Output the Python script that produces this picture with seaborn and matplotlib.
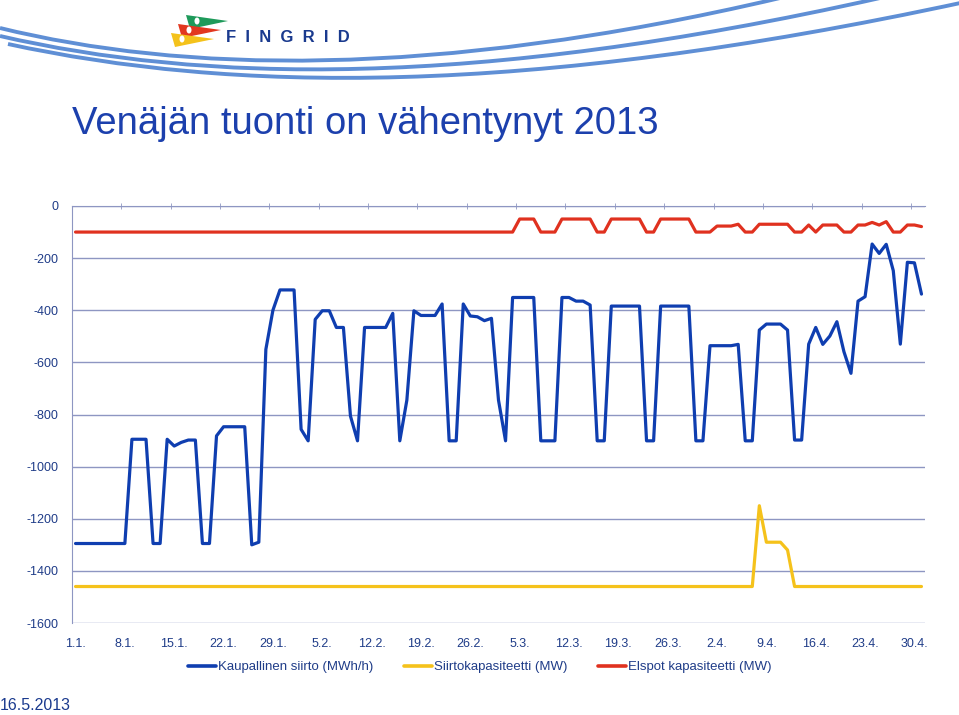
import matplotlib
matplotlib.use("Agg")
import matplotlib.pyplot as plt
import seaborn as sns
import pandas as pd
from matplotlib.path import Path
from matplotlib.patches import PathPatch, Polygon, Ellipse
from matplotlib.lines import Line2D

# ---------------- data ----------------
kaupallinen = [
    -1295, -1295, -1295, -1295, -1295, -1295, -1295, -1295,
    -895, -895, -895, -1295, -1295,
    -895, -921, -907, -898, -898, -1295, -1295,
    -882, -847, -847, -847, -847, -1300, -1290,
    -550, -400, -322, -322, -322, -857, -901,
    -435, -402, -402, -466, -466, -806, -901,
    -466, -466, -466, -466, -412, -901, -745,
    -402, -420, -420, -420, -376, -901, -901,
    -376, -422, -425, -440, -431, -745, -901,
    -351, -351, -351, -351, -901, -901, -901,
    -351, -351, -365, -365, -380, -901, -901,
    -384, -384, -384, -384, -384, -901, -901,
    -384, -384, -384, -384, -384, -901, -901,
    -536, -536, -536, -536, -531, -901, -901,
    -476, -453, -453, -453, -476, -898, -898,
    -530, -466, -531, -499, -444, -559, -642,
    -365, -348, -146, -182, -147, -248, -530, -216, -218, -338,
]
siirtokapasiteetti = [
    -1460, -1460, -1460, -1460, -1460, -1460, -1460, -1460, -1460, -1460,
    -1460, -1460, -1460, -1460, -1460, -1460, -1460, -1460, -1460, -1460,
    -1460, -1460, -1460, -1460, -1460, -1460, -1460, -1460, -1460, -1460,
    -1460, -1460, -1460, -1460, -1460, -1460, -1460, -1460, -1460, -1460,
    -1460, -1460, -1460, -1460, -1460, -1460, -1460, -1460, -1460, -1460,
    -1460, -1460, -1460, -1460, -1460, -1460, -1460, -1460, -1460, -1460,
    -1460, -1460, -1460, -1460, -1460, -1460, -1460, -1460, -1460, -1460,
    -1460, -1460, -1460, -1460, -1460, -1460, -1460, -1460, -1460, -1460,
    -1460, -1460, -1460, -1460, -1460, -1460, -1460, -1460, -1460, -1460,
    -1460, -1460, -1460, -1460, -1460, -1460, -1460,
    -1150, -1290, -1290, -1290, -1320,
    -1460, -1460, -1460, -1460, -1460, -1460, -1460, -1460, -1460, -1460,
    -1460, -1460, -1460, -1460, -1460, -1460, -1460, -1460, -1460,
]
elspot = [
    -100, -100, -100, -100, -100, -100, -100, -100, -100, -100,
    -100, -100, -100, -100, -100, -100, -100, -100, -100, -100,
    -100, -100, -100, -100, -100, -100, -100, -100, -100, -100,
    -100, -100, -100, -100, -100, -100, -100, -100, -100, -100,
    -100, -100, -100, -100, -100, -100, -100, -100, -100, -100,
    -100, -100, -100, -100, -100, -100, -100, -100, -100, -100,
    -100, -100, -100,
    -50, -50, -50, -100, -100, -100,
    -50, -50, -50, -50, -50, -100, -100,
    -50, -50, -50, -50, -50, -100, -100,
    -50, -50, -50, -50, -50, -100, -100, -100,
    -77, -77, -77, -70, -100, -100,
    -70, -70, -70, -70, -70, -100, -100,
    -73, -100, -73, -73, -73, -100, -100,
    -73, -73, -63, -73, -60, -100, -100, -73, -73, -79,
]
x_tick_labels = ['1.1.', '8.1.', '15.1.', '22.1.', '29.1.', '5.2.', '12.2.',
                 '19.2.', '26.2.', '5.3.', '12.3.', '19.3.', '26.3.', '2.4.',
                 '9.4.', '16.4.', '23.4.', '30.4.']
y_tick_values = [0, -200, -400, -600, -800, -1000, -1200, -1400, -1600]
y_tick_labels = ['0', '-200', '-400', '-600', '-800', '-1000', '-1200',
                 '-1400', '-1600']
series_names = ['Kaupallinen siirto (MWh/h)', 'Siirtokapasiteetti (MW)',
                'Elspot kapasiteetti (MW)']
series_colors = ['#0f3eb0', '#f5c21b', '#e0311f']
title_text = 'Venäjän tuonti on vähentynyt 2013'
footer_text = '16.5.2013'
logo_text = 'F  I  N  G  R  I  D'

# ---------------- build long table ----------------
n = len(kaupallinen)
frames = []
for name, vals in zip(series_names, [kaupallinen, siirtokapasiteetti, elspot]):
    frames.append(pd.DataFrame({'day': range(len(vals)), 'value': vals,
                                'series': name}))
df = pd.concat(frames, ignore_index=True)

sns.set_style('white')
plt.rcParams['font.family'] = ['Liberation Sans', 'DejaVu Sans']

W, H = 959, 715
fig = plt.figure(figsize=(W / 100, H / 100), dpi=100)

# ---------------- decoration (header swooshes + logo) ----------------
deco = fig.add_axes([0, 0, 1, 1])
deco.set_xlim(0, W)
deco.set_ylim(H, 0)
deco.axis('off')
swooshes = [
    [(0, 28), (180, 72), (430, 80), (780, -2)],
    [(0, 36), (200, 82), (470, 90), (880, -2)],
    [(8, 44), (230, 92), (520, 98), (965, 2)],
]
for pts in swooshes:
    p = Path(pts, [Path.MOVETO, Path.CURVE4, Path.CURVE4, Path.CURVE4])
    deco.add_patch(PathPatch(p, fill=False, edgecolor='#5f8fd5', lw=2.8))
flags = [
    ([(186, 15), (228, 21), (190, 29)], '#1e9a5a', (197, 21)),
    ([(178, 24), (221, 30), (182, 38)], '#e2371f', (189, 30)),
    ([(171, 33), (214, 39), (175, 47)], '#f4c21b', (182, 39)),
]
for poly, col, eye in flags:
    deco.add_patch(Polygon(poly, closed=True, facecolor=col, edgecolor='none'))
    deco.add_patch(Ellipse(eye, 5, 7, facecolor='white', edgecolor='none'))
deco.text(226, 37, logo_text, fontsize=12, fontweight='bold',
          color='#1a3a8e', va='center', ha='left')
deco.text(72, 134, title_text, fontsize=27.5, color='#1c40ad',
          va='baseline', ha='left')
deco.text(0, 706, footer_text, fontsize=11.5, color='#1a3a8e',
          va='center', ha='left')

# ---------------- main chart ----------------
ax = fig.add_axes([72 / W, 1 - 623 / H, (925 - 72) / W, (623 - 206) / H])
ax.set_zorder(2)
ax.patch.set_alpha(0)
sns.lineplot(data=df, x='day', y='value', hue='series',
             hue_order=series_names, palette=series_colors,
             linewidth=2.3, ax=ax, legend=False)

grid_col = '#8e96c2'
ax.set_xlim(-0.5, n - 0.5)
ax.set_ylim(min(y_tick_values), max(y_tick_values))
ax.set_yticks(y_tick_values)
ax.set_yticklabels(y_tick_labels)
ax.set_xticks(range(0, 7 * len(x_tick_labels), 7))
ax.set_xticklabels(x_tick_labels)
ax.set_xticks([k - 0.5 for k in range(7, n, 7)], minor=True)
ax.grid(axis='y', color=grid_col, lw=1.0)
ax.grid(axis='x', visible=False)
for s in ['right', 'bottom']:
    ax.spines[s].set_visible(False)
ax.spines['left'].set_color(grid_col)
ax.spines['top'].set_color(grid_col)
ax.tick_params(axis='y', length=0, pad=10, labelsize=9, labelcolor='#1f3c88')
ax.tick_params(axis='x', which='major', length=0, pad=11, labelsize=9,
               labelcolor='#1f3c88')
ax.tick_params(axis='x', which='minor', top=True, bottom=False, length=4,
               direction='inout', color=grid_col)
ax.set_xlabel('')
ax.set_ylabel('')

handles = [Line2D([0], [0], color=c, lw=2.6) for c in series_colors]
leg = fig.legend(handles, series_names, loc='center',
                 bbox_to_anchor=(480 / W, 1 - 667 / H), ncol=3, frameon=False,
                 fontsize=9.5, handlelength=2.1, handletextpad=0.2,
                 columnspacing=2.3)
for t in leg.get_texts():
    t.set_color('#1f3c88')

fig.savefig('out.png', dpi=100)
